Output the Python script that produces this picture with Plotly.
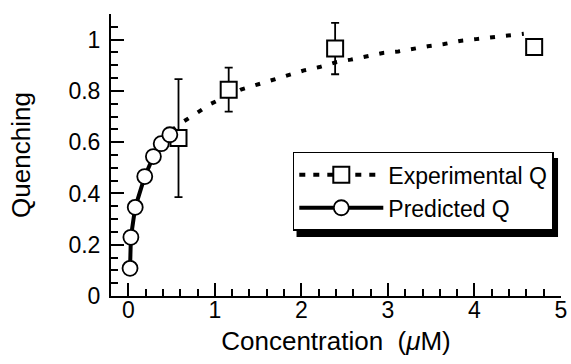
import plotly.graph_objects as go

# Experimental Q (squares with error bars)
exp_x = [0.58, 1.16, 2.39, 4.69]
exp_y = [0.616, 0.805, 0.965, 0.971]
exp_err = [0.23, 0.086, 0.10, 0.0]

# Fitted dotted curve through experimental data
fit_x = [0.50, 0.58, 0.76, 0.95, 1.30, 1.49, 1.69, 1.84, 2.03, 2.21, 2.39, 2.57,
         2.75, 2.94, 3.12, 3.29, 3.46, 3.65, 3.83, 4.02, 4.19, 4.38, 4.57]
fit_y = [0.645, 0.668, 0.707, 0.749, 0.805, 0.824, 0.846, 0.863, 0.880, 0.893, 0.911, 0.922,
         0.935, 0.948, 0.954, 0.965, 0.974, 0.983, 0.995, 1.002, 1.008, 1.016, 1.023]

# Predicted Q (circles, solid line)
pred_x = [0.02, 0.03, 0.08, 0.19, 0.29, 0.38, 0.48]
pred_y = [0.108, 0.229, 0.346, 0.466, 0.544, 0.594, 0.629]

x_ticks = [0, 1, 2, 3, 4, 5]
y_ticks = [0, 0.2, 0.4, 0.6, 0.8, 1]
y_tick_text = ["0", "0.2", "0.4", "0.6", "0.8", "1"]

FONT = "Liberation Sans, Arial, Helvetica, sans-serif"

fig = go.Figure()

fig.add_trace(go.Scatter(
    x=fit_x, y=fit_y, mode="lines",
    line=dict(color="black", width=4, dash="5px,11px"),
    showlegend=False, hoverinfo="skip"))

fig.add_trace(go.Scatter(
    x=exp_x, y=exp_y, mode="markers",
    marker=dict(symbol="square", size=16, color="white",
                line=dict(color="black", width=2)),
    error_y=dict(type="data", array=exp_err, color="black", thickness=1.8, width=4),
    showlegend=False))

fig.add_trace(go.Scatter(
    x=pred_x, y=pred_y, mode="lines+markers", name="Predicted Q",
    line=dict(color="black", width=4),
    marker=dict(symbol="circle", size=15, color="white",
                line=dict(color="black", width=1.8)),
    legendrank=2))

fig.add_trace(go.Scatter(
    x=[None], y=[None], mode="lines+markers", name="Experimental Q",
    line=dict(color="black", width=4, dash="6px,8px"),
    marker=dict(symbol="square", size=16, color="white",
                line=dict(color="black", width=2)),
    legendrank=1))

axis_common = dict(
    showgrid=False, zeroline=False, showline=True, linecolor="black", linewidth=2,
    ticks="inside", ticklen=13, tickwidth=1.8, tickcolor="black",
    tickfont=dict(family=FONT, size=23, color="black"),
    ticklabeloverflow="allow",
)

fig.update_xaxes(
    range=[-0.2, 5.0], tickvals=x_ticks, ticktext=[str(v) for v in x_ticks],
    minor=dict(dtick=0.2, tick0=0, ticks="inside", ticklen=7, tickwidth=1.8, tickcolor="black"),
    title=dict(text="Concentration  (<i>μ</i>M)", font=dict(family=FONT, size=26, color="black"),
               standoff=10),
    ticklabelstandoff=-8,
    **axis_common)

fig.update_yaxes(
    range=[0, 1.1], tickvals=y_ticks, ticktext=y_tick_text,
    minor=dict(dtick=0.05, tick0=0, ticks="inside", ticklen=7, tickwidth=1.8, tickcolor="black"),
    title=dict(text="Quenching", font=dict(family=FONT, size=26, color="black"), standoff=30),
    ticklabelstandoff=4,
    **axis_common)

# drop shadow behind the legend box
fig.add_shape(type="rect", xref="paper", yref="paper",
              x0=0.4123, x1=0.9934, y0=0.2092, y1=0.4894,
              fillcolor="black", line=dict(width=0), layer="above")

fig.update_layout(
    width=571, height=364,
    margin=dict(l=111, r=4, t=14, b=68),
    paper_bgcolor="white", plot_bgcolor="white",
    legend=dict(x=0.404, y=0.511, xanchor="left", yanchor="top",
                bgcolor="white", bordercolor="black", borderwidth=1.5,
                font=dict(family=FONT, size=23, color="black"),
                itemwidth=84, tracegroupgap=0),
)

fig.write_html("out.html")
